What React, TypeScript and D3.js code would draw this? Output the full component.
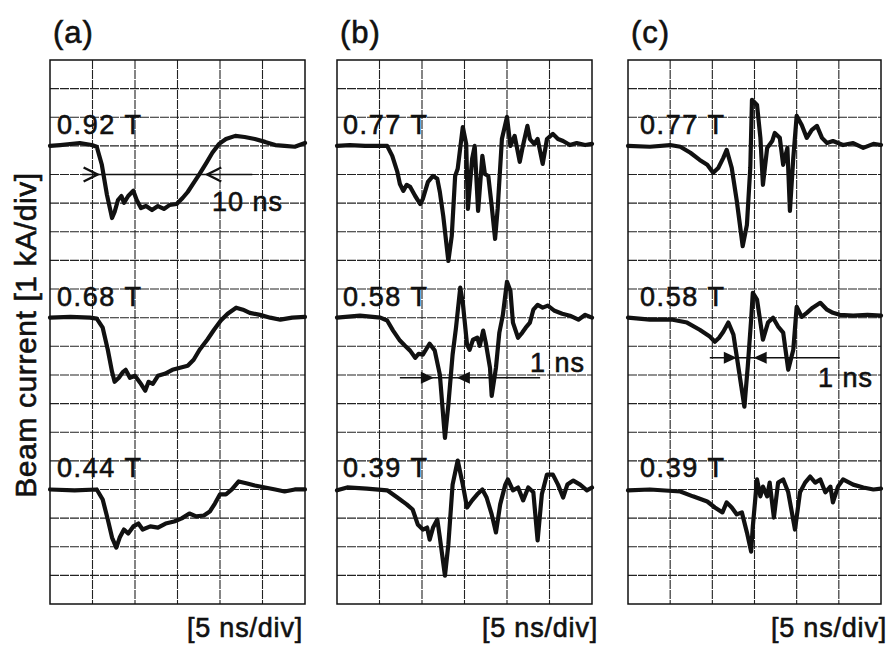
import * as d3 from "d3";

// time [ns], beam current [kA] relative to the trace baseline
const a092: [number, number][] = [
  [0, 0], [1.2, 0.03], [3.5, 0.1], [4.9, 0.03], [5.5, -0.03], [6.1, -0.66], [6.7, -1.71], [7.3, -2.52],
  [7.6, -2.31], [8.0, -1.89], [8.4, -1.75], [8.7, -1.99], [9.2, -1.75], [9.8, -1.57], [10.2, -1.89],
  [10.7, -2.17], [11.3, -2.1], [12.0, -2.24], [12.7, -2.1], [13.4, -2.2], [14.1, -2.06], [14.9, -2.03],
  [15.6, -1.82], [16.2, -1.61], [16.9, -1.29], [17.6, -0.98], [18.4, -0.59], [19.1, -0.24], [19.9, 0.07],
  [20.7, 0.24], [21.8, 0.35], [22.9, 0.31], [24.1, 0.24], [25.3, 0.14], [26.5, 0.03], [27.6, 0],
  [28.8, -0.03], [30, 0.1],
];
const a068: [number, number][] = [
  [0, 0], [2.4, 0.03], [4.7, 0], [5.5, -0.03], [6.2, -0.35], [6.8, -1.12], [7.3, -1.89], [7.6, -2.24],
  [8.1, -2.1], [8.6, -1.89], [8.9, -1.82], [9.4, -2.1], [10.0, -2.03], [10.6, -2.27], [11.2, -2.55],
  [11.6, -2.24], [12.1, -2.31], [12.7, -2.03], [13.5, -1.96], [14.4, -1.82], [15.3, -1.75], [16.2, -1.68],
  [16.9, -1.47], [17.6, -1.12], [18.5, -0.77], [19.3, -0.42], [20.1, -0.1], [20.9, 0.14], [21.9, 0.35],
  [22.7, 0.28], [23.5, 0.17], [24.7, 0.1], [25.9, 0], [27.1, -0.07], [28.5, 0], [30, 0.03],
];
const a044: [number, number][] = [
  [0, 0], [2.9, -0.03], [5.5, 0], [6.2, -0.35], [6.8, -1.05], [7.3, -1.68], [7.8, -2.03], [8.2, -1.68],
  [8.7, -1.4], [9.2, -1.54], [9.8, -1.29], [10.4, -1.19], [10.9, -1.4], [11.8, -1.29], [12.7, -1.33],
  [13.6, -1.19], [14.6, -1.12], [15.5, -1.01], [16.4, -0.84], [17.2, -0.94], [18.1, -0.91], [18.8, -0.77],
  [19.4, -0.49], [20.0, -0.17], [20.7, -0.17], [21.4, 0], [22.2, 0.28], [23.2, 0.21], [24.1, 0.14],
  [25.3, 0.07], [26.5, 0], [27.6, -0.07], [28.8, 0], [30, 0],
];
const b077: [number, number][] = [
  [0, 0], [1.5, 0.03], [3.3, 0], [5.9, 0], [6.5, -0.35], [7.1, -0.91], [7.4, -1.33], [7.8, -1.57],
  [8.2, -1.36], [8.6, -1.43], [9.2, -1.75], [9.8, -2.03], [10.1, -1.85], [10.7, -1.26], [11.3, -1.05],
  [11.8, -1.15], [12.1, -1.61], [12.5, -2.45], [13.1, -4.02], [13.5, -3.15], [13.9, -1.05], [14.2, -0.8],
  [14.8, 0.66], [15.2, 0.07], [15.4, -2.2], [15.9, -0.45], [16.2, 0], [16.6, -2.27], [17.1, -0.35],
  [17.4, -0.98], [17.8, -1.05], [18.2, -2.1], [18.6, -3.25], [18.9, -2.2], [19.4, 0.24], [20.0, 1.01],
  [20.4, 0], [20.9, 0.35], [21.5, -0.56], [21.8, -0.1], [22.4, 0.7], [22.7, 0.24], [23.2, 0.07],
  [23.6, 0.24], [24.2, -0.63], [24.7, 0.24], [25.4, 0.42], [26.0, 0.24], [26.6, 0.17], [27.4, 0.03],
  [28.2, 0.1], [29.2, 0.03], [30, 0.07],
];
const b058: [number, number][] = [
  [0, 0], [2.7, 0.07], [5.1, 0], [5.9, -0.1], [6.6, -0.45], [7.4, -0.8], [8.0, -0.98], [8.6, -1.15],
  [9.2, -1.4], [9.6, -1.26], [10.1, -1.29], [10.6, -1.05], [10.9, -0.91], [11.5, -1.15], [12.1, -1.99],
  [12.7, -4.2], [13.1, -3.04], [13.6, -1.29], [14.0, -0.35], [14.5, 1.05], [14.8, 0.52], [15.3, -0.94],
  [15.6, -1.12], [16.0, -0.77], [16.5, -0.7], [16.8, -0.98], [17.2, -0.45], [17.5, -0.87], [18.0, -1.75],
  [18.2, -2.73], [18.7, -1.75], [19.1, -0.52], [19.5, 0.07], [20.0, 1.26], [20.4, 0.94], [20.7, -0.17],
  [21.3, -0.7], [21.8, -0.52], [22.2, -0.35], [22.7, -0.17], [23.1, 0.28], [23.6, 0.45], [24.2, 0.35],
  [24.8, 0.42], [25.6, 0.24], [26.5, 0.14], [27.4, 0.07], [28.4, -0.07], [29.2, 0.1], [30, 0],
];
const b039: [number, number][] = [
  [0, -0.03], [1.2, 0.07], [3.5, 0.03], [5.9, -0.03], [7.1, -0.28], [8.2, -0.52], [8.9, -0.7],
  [9.5, -1.22], [10.1, -1.4], [10.6, -1.33], [10.9, -1.75], [11.3, -1.33], [11.8, -1.05], [12.1, -1.68],
  [12.7, -3.01], [13.1, -1.92], [13.6, 0.17], [14.2, 1.01], [14.8, 0.17], [15.3, -0.63], [15.9, -0.38],
  [16.5, -0.17], [17.1, 0], [17.6, -0.28], [18.2, -0.87], [18.7, -1.5], [19.2, -0.52], [19.8, 0.17],
  [20.1, 0.35], [20.7, -0.03], [21.3, 0.07], [21.9, -0.38], [22.5, 0.07], [23.1, -0.1], [23.6, -1.78],
  [24.1, -0.17], [24.7, 0.52], [25.4, 0.52], [26.0, 0.17], [26.6, -0.28], [27.1, 0.17], [27.8, 0.31],
  [28.6, 0.17], [29.4, -0.03], [30, 0.07],
];
const c077: [number, number][] = [
  [0, 0], [2.6, -0.03], [5.0, 0.03], [6.2, -0.03], [7.4, -0.24], [8.5, -0.49], [9.4, -0.66], [10.1, -0.94],
  [10.7, -0.77], [11.3, -0.42], [11.7, -0.14], [12.3, -0.77], [12.9, -1.92], [13.6, -3.5], [14.1, -2.76],
  [14.5, -0.77], [14.7, 1.61], [15.3, 1.43], [15.7, 0.28], [16.0, -1.36], [16.5, -0.07], [17.1, 0.17],
  [17.4, 0.45], [18.0, 0.28], [18.4, -0.66], [18.9, -0.07], [19.2, -2.27], [19.6, -0.42], [20.0, 1.05],
  [20.6, 0.73], [21.2, 0.28], [21.8, 0.56], [22.4, 0.7], [23.0, 0.28], [23.6, 0.1], [24.3, 0.17],
  [25.5, 0.03], [26.7, 0.1], [27.9, -0.07], [29.1, 0.07], [30, 0.03],
];
const c058: [number, number][] = [
  [0, 0], [2.6, -0.07], [5.3, -0.07], [7.0, -0.17], [8.5, -0.42], [9.7, -0.66], [10.3, -0.84], [10.8, -0.7],
  [11.3, -0.49], [11.9, -0.17], [12.5, -0.59], [12.9, -1.36], [13.8, -3.11], [14.2, -1.71], [14.6, -0.07],
  [14.8, 0.87], [15.3, 0.63], [15.7, -0.17], [16.0, -0.77], [16.6, -0.17], [17.2, 0], [17.8, -0.31],
  [18.4, -0.52], [19.0, -1.82], [19.6, -1.12], [20.0, 0.38], [20.6, 0.03], [21.2, 0.17], [21.9, 0.35],
  [22.8, 0.52], [23.6, 0.28], [24.3, 0.17], [25.1, 0.1], [26.7, 0.07], [28.4, 0.1], [30, 0.07],
];
const c039: [number, number][] = [
  [0, -0.03], [2.6, 0], [6.2, -0.07], [7.7, -0.24], [9.4, -0.42], [10.3, -0.63], [11.2, -0.8], [11.7, -0.45],
  [12.3, -0.63], [12.9, -0.87], [13.5, -0.8], [14.1, -1.5], [14.6, -2.17], [14.8, -1.29], [15.3, 0.35],
  [15.7, -0.24], [16.0, 0.1], [16.5, -0.24], [16.8, 0.24], [17.3, -0.98], [17.8, 0.24], [18.4, 0.35],
  [19.0, -0.1], [19.8, -1.4], [20.4, -0.1], [21.0, 0.24], [21.6, 0.45], [22.2, 0.24], [22.8, 0.35],
  [23.4, -0.1], [24.0, 0.1], [24.3, -0.45], [24.9, 0.1], [25.5, 0.35], [26.7, 0.17], [27.9, 0.07],
  [29.1, 0], [30, 0.03],
];

const panelNames = ["(a)", "(b)", "(c)"];
const fieldLabels = [["0.92 T", "0.68 T", "0.44 T"], ["0.77 T", "0.58 T", "0.39 T"], ["0.77 T", "0.58 T", "0.39 T"]];
const traceData = [[a092, a068, a044], [b077, b058, b039], [c077, c058, c039]];
// width markers: [row (div from top), line start, tip1, tip2, line end] in div / ns
const markerText = ["10 ns", "1 ns", "1 ns"];
const markers = [
  [4, 3.8, 5.6, 18.5, 23.8],
  [11.1, 7.4, 11.4, 14.1, 23.9],
  [10.4, 9.7, 12.9, 14.9, 25.1],
];

const timeTicks = [0, 5, 10, 15, 20, 25, 30];
const rows = d3.range(0, 20);
const baseRows = [3, 9, 15];

const FONT = "'Liberation Sans', Arial, Helvetica, sans-serif";
const lefts = [50, 337, 628];
const rights = [305, 592, 881];
const TOP = 60;
const BOTTOM = 604;

const txt = { fontFamily: FONT, fill: "#111", stroke: "#111", strokeWidth: 0.6 };

const Panel = ({ p }: { p: number }) => {
  const x = d3.scaleLinear().domain([0, 30]).range([lefts[p], rights[p]]);
  const y = d3.scaleLinear().domain([0, 19]).range([TOP, BOTTOM]);
  const line = d3.line<[number, number]>().x((d) => x(d[0])).y((d) => y(d[1]));
  const [row, x0, t1, t2, x1] = markers[p];
  const my = y(row);
  const labelDx = [7, 6, 12][p];

  return (
    <g>
      {rows.slice(1, 19).map((r) => (
        <line key={"h" + r} x1={x(0)} x2={x(30)} y1={y(r)} y2={y(r)} stroke="#222" strokeWidth={1.1} strokeDasharray="9 1" />
      ))}
      {timeTicks.slice(1, 6).map((t) => (
        <line key={"v" + t} x1={x(t)} x2={x(t)} y1={y(0)} y2={y(19)} stroke="#222" strokeWidth={1.1} strokeDasharray="9 1" />
      ))}
      <rect x={x(0)} y={y(0)} width={x(30) - x(0)} height={y(19) - y(0)} fill="none" stroke="#111" strokeWidth={1.5} />

      {traceData[p].map((pts, k) => (
        <path
          key={"tr" + k}
          d={line(pts.map((d) => [d[0], baseRows[k] - d[1]] as [number, number])) || ""}
          fill="none"
          stroke="#111"
          strokeWidth={4.2}
          strokeLinejoin="round"
          strokeLinecap="round"
        />
      ))}
      {fieldLabels[p].map((l, k) => (
        <text key={"lb" + k} x={x(0) + labelDx} y={y(baseRows[k]) - 12} fontSize={27} letterSpacing={1.6} {...txt}>
          {l}
        </text>
      ))}

      <line x1={x(x0)} x2={x(x1)} y1={my} y2={my} stroke="#111" strokeWidth={1.4} />
      {p === 0 ? (
        <g fill="none" stroke="#111" strokeWidth={2.4}>
          <path d={`M${x(t1) - 14},${my - 7} L${x(t1)},${my} L${x(t1) - 14},${my + 7}`} />
          <path d={`M${x(t2) + 14},${my - 7} L${x(t2)},${my} L${x(t2) + 14},${my + 7}`} />
        </g>
      ) : (
        <g fill="#111">
          <path d={`M${x(t1) - 13},${my - 6} L${x(t1)},${my} L${x(t1) - 13},${my + 6} Z`} />
          <path d={`M${x(t2) + 13},${my - 6} L${x(t2)},${my} L${x(t2) + 13},${my + 6} Z`} />
        </g>
      )}
      <text
        x={p === 0 ? 212 : p === 1 ? 530 : 818}
        y={p === 0 ? 211 : p === 1 ? 372 : 387}
        fontSize={27}
        letterSpacing={1}
        {...txt}
      >
        {markerText[p]}
      </text>

      <text x={lefts[p] + 3} y={43} fontSize={31} letterSpacing={1} {...txt}>
        {panelNames[p]}
      </text>
      <text x={[303, 598, 887][p]} y={637} fontSize={27} letterSpacing={0.8} textAnchor="end" {...txt}>
        [5 ns/div]
      </text>
    </g>
  );
};

export default function App() {
  return (
    <svg width={893} height={648} style={{ position: "absolute", left: 0, top: 0, background: "#fff" }}>
      <rect width={893} height={648} fill="#fff" />
      <text transform="translate(36,335) rotate(-90)" textAnchor="middle" fontSize={30} letterSpacing={0.6} {...txt}>
        Beam current [1 kA/div]
      </text>
      {[0, 1, 2].map((p) => (
        <Panel key={p} p={p} />
      ))}
    </svg>
  );
}
